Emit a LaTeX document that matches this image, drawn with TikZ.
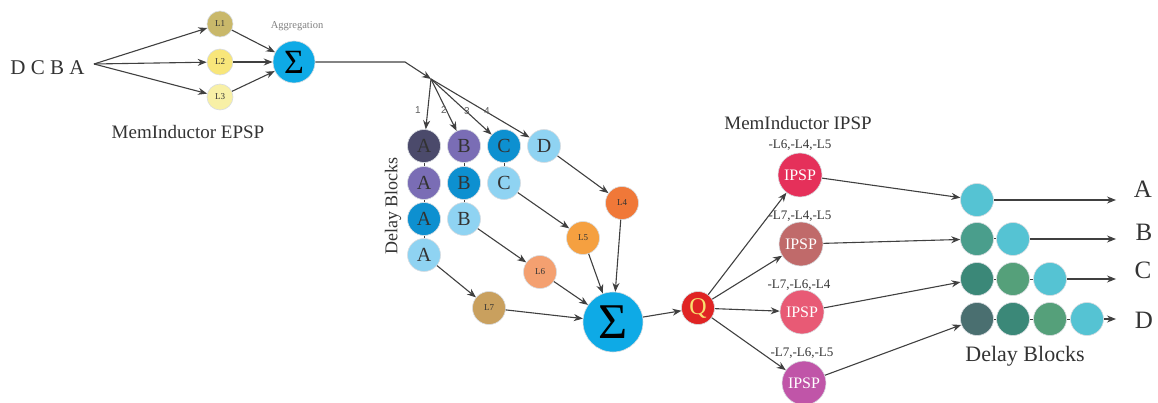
\documentclass[tikz,border=0pt]{standalone}
\usepackage{fontspec}
\setmainfont{Liberation Serif}
\setsansfont{Liberation Sans}
\usetikzlibrary{arrows.meta}
\definecolor{linec}{HTML}{404040}
\definecolor{cL1}{HTML}{C9B86A}
\definecolor{cL2}{HTML}{F8E67A}
\definecolor{cL3}{HTML}{F8F0A6}
\definecolor{cSig}{HTML}{0EAAE6}
\definecolor{cDk}{HTML}{4B4A6B}
\definecolor{cPu}{HTML}{7A6DB5}
\definecolor{cBl}{HTML}{0D90D0}
\definecolor{cLb}{HTML}{8FD3F2}
\definecolor{cL4}{HTML}{F07838}
\definecolor{cL5}{HTML}{F5A040}
\definecolor{cL6}{HTML}{F4A070}
\definecolor{cL7}{HTML}{C9A05E}
\definecolor{cQ}{HTML}{E02424}
\definecolor{cQt}{HTML}{F8E070}
\definecolor{cI1}{HTML}{E5305A}
\definecolor{cI2}{HTML}{C06A6A}
\definecolor{cI3}{HTML}{E85A75}
\definecolor{cI4}{HTML}{C055A8}
\definecolor{rCy}{HTML}{55C3D3}
\definecolor{rGr}{HTML}{55A07A}
\definecolor{rTl}{HTML}{3B8878}
\definecolor{rDk}{HTML}{4A6F70}
\definecolor{rMd}{HTML}{4A9E8C}
\definecolor{txt}{HTML}{333333}
\definecolor{rim}{HTML}{D8DCE0}
\tikzset{
  dot/.style={circle, inner sep=0pt, minimum size=#1, draw=rim, line width=0.6pt},
  arr/.style={draw=linec, line width=1.1pt, -{Stealth[length=9pt,width=7pt]}},
  ln/.style={draw=linec, line width=1pt},
  llab/.style={font=\fontsize{9}{9}\selectfont, text=txt},
  dlab/.style={font=\fontsize{20}{20}\selectfont, text=txt},
  ilab/.style={font=\fontsize{16}{16}\selectfont, text=white},
  numlab/.style={font=\sffamily\fontsize{10}{10}\selectfont, text=txt!80},
  ipcaption/.style={font=\fontsize{13}{13}\selectfont, text=txt},
}
\begin{document}
\begin{tikzpicture}[x=1pt,y=-1pt]
\useasboundingbox (0,0) rectangle (1158,403);
% left input
\node[font=\fontsize{21}{21}\selectfont, text=txt, anchor=east] (in) at (88,68) {D C B A};
\coordinate (src) at (94,64);
\node[dot=26, fill=cL1, llab] (L1) at (220,24) {L1};
\node[dot=26, fill=cL2, llab] (L2) at (220,62) {L2};
\node[dot=26, fill=cL3, llab] (L3) at (220,97) {L3};
\node[dot=42, fill=cSig, font=\fontsize{34}{34}\selectfont] (S1) at (294,62) {Σ};
\node[font=\fontsize{10.5}{10.5}\selectfont, text=gray] (agg) at (297,26) {Aggregation};
\node[font=\fontsize{19}{19}\selectfont, text=txt] (epsp) at (188,132) {MemInductor EPSP};
\draw[arr] (src) -- (L1);
\draw[arr] (src) -- (L2);
\draw[arr] (src) -- (L3);
\draw[arr] (L1) -- (S1);
\draw[arr] (L2) -- (S1);
\draw[arr] (L3) -- (S1);
\coordinate (bend) at (405,62);
\coordinate (hub) at (431,79);
\draw[arr] (S1.east) -- (bend) -- (hub);
% left delay blocks
\node[dot=33, fill=cDk, dlab] (a1) at (424,146) {A};
\node[dot=33, fill=cPu, dlab] (a2) at (424,183) {A};
\node[dot=33, fill=cBl, dlab] (a3) at (424,219) {A};
\node[dot=33, fill=cLb, dlab] (a4) at (424,255) {A};
\node[dot=33, fill=cPu, dlab] (b1) at (464,146) {B};
\node[dot=33, fill=cBl, dlab] (b2) at (464,183) {B};
\node[dot=33, fill=cLb, dlab] (b3) at (464,219) {B};
\node[dot=33, fill=cBl, dlab] (c1) at (504,146) {C};
\node[dot=33, fill=cLb, dlab] (c2) at (504,183) {C};
\node[dot=33, fill=cLb, dlab] (d1) at (544,146) {D};
\draw[ln] (a1) -- (a2); \draw[ln] (a2) -- (a3); \draw[ln] (a3) -- (a4);
\draw[ln] (b1) -- (b2); \draw[ln] (b2) -- (b3);
\draw[ln] (c1) -- (c2);
\draw[arr] (hub) -- (a1);
\draw[arr] (hub) -- (b1);
\draw[arr] (hub) -- (c1);
\draw[arr] (hub) -- (d1);
\node[numlab] (n1) at (418,110) {1};
\node[numlab] (n2) at (444,110) {2};
\node[numlab] (n3) at (467,111) {3};
\node[numlab] (n4) at (487,111) {4};
\node[font=\fontsize{18}{18}\selectfont, text=txt, rotate=90] (dbl) at (393,206) {Delay Blocks};
% L4-L7
\node[dot=33, fill=cL4, llab] (L4) at (622,203) {L4};
\node[dot=33, fill=cL5, llab] (L5) at (583,238) {L5};
\node[dot=33, fill=cL6, llab] (L6) at (540,272) {L6};
\node[dot=33, fill=cL7, llab] (L7) at (489,308) {L7};
\node[dot=60, fill=cSig, font=\fontsize{50}{50}\selectfont] (S2) at (613,322) {Σ};
\node[dot=33, fill=cQ, text=cQt, font=\fontsize{24}{24}\selectfont] (Q) at (698,308) {Q};
\draw[arr] (d1) -- (L4);
\draw[arr] (c2) -- (L5);
\draw[arr] (b3) -- (L6);
\draw[arr] (a4) -- (L7);
\draw[arr] (L4) -- (S2);
\draw[arr] (L5) -- (S2);
\draw[arr] (L6) -- (S2);
\draw[arr] (L7) -- (S2);
\draw[arr] (S2) -- (Q);
% IPSP
\node[font=\fontsize{19}{19}\selectfont, text=txt] (ipspt) at (798,123) {MemInductor IPSP};
\node[dot=44, fill=cI1, ilab] (I1) at (800,175) {IPSP};
\node[dot=44, fill=cI2, ilab] (I2) at (801,244) {IPSP};
\node[dot=44, fill=cI3, ilab] (I3) at (802,312) {IPSP};
\node[dot=44, fill=cI4, ilab] (I4) at (804,383) {IPSP};
\node[ipcaption] (t1) at (800,145) {-L6,-L4,-L5};
\node[ipcaption] (t2) at (800,216) {-L7,-L4,-L5};
\node[ipcaption] (t3) at (799,285) {-L7,-L6,-L4};
\node[ipcaption] (t4) at (802,353) {-L7,-L6,-L5};
\draw[arr] (Q) -- (I1);
\draw[arr] (Q) -- (I2);
\draw[arr] (Q) -- (I3);
\draw[arr] (Q) -- (I4);
% right delay blocks
\node[dot=33, fill=rCy] (ra1) at (977,200) {};
\node[dot=33, fill=rMd] (rb1) at (977,239) {};
\node[dot=33, fill=rCy] (rb2) at (1013,239) {};
\node[dot=33, fill=rTl] (rc1) at (977,279) {};
\node[dot=33, fill=rGr] (rc2) at (1013,279) {};
\node[dot=33, fill=rCy] (rc3) at (1050,279) {};
\node[dot=33, fill=rDk] (rd1) at (977,319) {};
\node[dot=33, fill=rTl] (rd2) at (1013,319) {};
\node[dot=33, fill=rGr] (rd3) at (1050,319) {};
\node[dot=33, fill=rCy] (rd4) at (1087,319) {};
\draw[ln] (rb1) -- (rb2);
\draw[ln] (rc1) -- (rc2); \draw[ln] (rc2) -- (rc3);
\draw[ln] (rd1) -- (rd2); \draw[ln] (rd2) -- (rd3); \draw[ln] (rd3) -- (rd4);
\draw[arr] (I1) -- (ra1);
\draw[arr] (I2) -- (rb1);
\draw[arr] (I3) -- (rc1);
\draw[arr] (I4) -- (rd1);
\coordinate (ea) at (1116,200);
\coordinate (eb) at (1116,239);
\coordinate (ec) at (1116,279);
\coordinate (ed) at (1116,319);
\draw[arr] (ra1) -- (ea);
\draw[arr] (rb2) -- (eb);
\draw[arr] (rc3) -- (ec);
\draw[arr] (rd4) -- (ed);
\node[font=\fontsize{25}{25}\selectfont, text=txt] (oA) at (1143,189) {A};
\node[font=\fontsize{25}{25}\selectfont, text=txt] (oB) at (1144,232) {B};
\node[font=\fontsize{25}{25}\selectfont, text=txt] (oC) at (1143,270) {C};
\node[font=\fontsize{25}{25}\selectfont, text=txt] (oD) at (1144,320) {D};
\node[font=\fontsize{22}{22}\selectfont, text=txt] (dbr) at (1025,356) {Delay Blocks};
\end{tikzpicture}
\end{document}
